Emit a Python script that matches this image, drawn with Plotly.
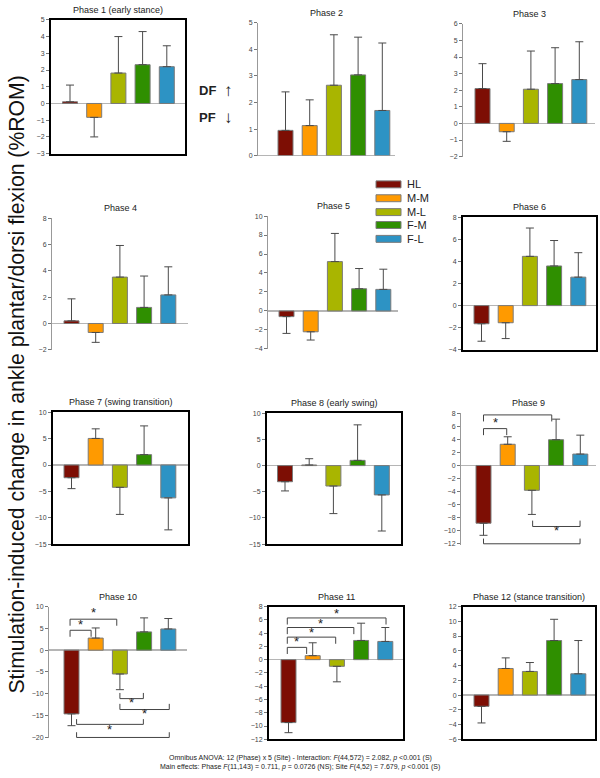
import plotly.graph_objects as go

# ---------------- data ----------------
sites = ["HL", "M-M", "M-L", "F-M", "F-L"]
site_colors = ["#7d0e04", "#ff9a00", "#a9b500", "#2f8f00", "#2d93c4"]

phase_titles = ["Phase 1 (early stance)", "Phase 2", "Phase 3",
                "Phase 4", "Phase 5", "Phase 6",
                "Phase 7 (swing transition)", "Phase 8 (early swing)", "Phase 9",
                "Phase 10", "Phase 11", "Phase 12 (stance transition)"]

p1_mean = [0.10, -0.83, 1.82, 2.32, 2.20]
p2_mean = [0.95, 1.13, 2.65, 3.04, 1.70]
p3_mean = [2.10, -0.50, 2.06, 2.40, 2.64]
p4_mean = [0.20, -0.68, 3.52, 1.22, 2.17]
p5_mean = [-0.60, -2.20, 5.20, 2.34, 2.27]
p6_mean = [-1.64, -1.55, 4.45, 3.58, 2.57]
p7_mean = [-2.41, 5.04, -4.23, 1.97, -6.23]
p8_mean = [-3.08, 0.12, -3.90, 1.00, -5.60]
p9_mean = [-8.85, 3.25, -3.80, 3.95, 1.75]
p10_mean = [-14.60, 2.77, -5.46, 4.19, 4.86]
p11_mean = [-9.48, 0.60, -1.00, 2.89, 2.74]
p12_mean = [-1.53, 3.60, 3.20, 7.39, 2.88]

p1_sd = [1.00, 1.17, 2.18, 1.98, 1.25]
p2_sd = [1.45, 0.97, 1.90, 1.42, 2.54]
p3_sd = [1.50, 0.58, 2.30, 2.16, 2.28]
p4_sd = [1.67, 0.75, 2.40, 2.38, 2.13]
p5_sd = [1.77, 0.87, 2.97, 2.13, 2.13]
p6_sd = [1.58, 1.43, 2.56, 2.30, 2.21]
p7_sd = [2.07, 1.82, 5.14, 5.45, 6.07]
p8_sd = [1.76, 1.20, 5.27, 6.79, 6.90]
p9_sd = [1.85, 1.15, 3.70, 3.15, 2.90]
p10_sd = [2.70, 2.32, 3.59, 3.21, 2.39]
p11_sd = [1.52, 1.94, 2.34, 2.60, 2.10]
p12_sd = [2.25, 1.44, 1.21, 2.88, 4.51]

means = [p1_mean, p2_mean, p3_mean, p4_mean, p5_mean, p6_mean,
         p7_mean, p8_mean, p9_mean, p10_mean, p11_mean, p12_mean]
sds = [p1_sd, p2_sd, p3_sd, p4_sd, p5_sd, p6_sd,
       p7_sd, p8_sd, p9_sd, p10_sd, p11_sd, p12_sd]

# y axis (min, max, step) per phase
y_axes = [(-3, 5, 1), (0, 5, 1), (-2, 6, 1),
          (-2, 8, 2), (-4, 10, 2), (-4, 8, 2),
          (-15, 10, 5), (-15, 10, 5), (-12, 8, 2),
          (-20, 10, 5), (-12, 8, 2), (-6, 12, 2)]

# significance brackets: (phase, from_cat, to_cat, y_line, y_leg_end, y_star)
brackets = [
    (9, 0.0, 0.96, 5.65, 4.65, 6.65),
    (9, 0.0, 2.82, 7.75, 6.75, 8.75),
    (9, 2.03, 3.99, -9.35, -8.45, -10.0),
    (9, 0.0, 3.99, -12.0, -11.2, -13.0),
    (10, -0.06, 0.81, 4.56, 3.07, 5.9),
    (10, -0.06, 1.87, 7.1, 5.6, 8.6),
    (10, 2.0, 2.97, -11.1, -9.8, -12.0),
    (10, 2.0, 4.04, -13.6, -12.3, -14.6),
    (10, 0.21, 2.97, -17.0, -15.8, -18.1),
    (10, 0.21, 4.04, -20.0, -18.8, -21.6),
    (11, -0.05, 0.75, 1.85, 0.85, 2.7),
    (11, -0.05, 1.95, 3.39, 2.39, 4.1),
    (11, -0.05, 2.70, 4.84, 3.84, 5.5),
    (11, -0.05, 4.03, 6.28, 5.29, 6.95),
]

# ---------------- layout geometry (page pixels) ----------------
W, H = 600, 778
# left, right, top, bottom, centre of first bar
geom = [(51, 185, 16, 151, 70), (258, 395, 19, 153, 285.5), (463, 595, 20, 154, 482.5),
        (52, 188, 216, 349, 71.5), (268, 398, 214, 348, 286.5), (463, 596, 215, 349, 481.5),
        (53, 188, 412, 545, 71.5), (267, 401, 413, 545, 285), (461, 596, 413, 546, 483.5),
        (49, 187, 608, 741, 71.5), (269, 403, 608, 742, 288.5), (463, 595, 608, 742, 481.5)]
framed = {1, 6, 7, 8, 11, 12}
SP = 24.2  # px between bar centres
FONT = "Arial, Liberation Sans, sans-serif"


def fx(px):
    return px / W


def fy(py):
    return 1 - py / H


fig = go.Figure()
layout = dict(width=W, height=H, margin=dict(l=0, r=0, t=0, b=0),
              paper_bgcolor="white", plot_bgcolor="white", showlegend=False,
              font=dict(family=FONT, color="#222"), shapes=[], annotations=[])

for i in range(12):
    n = i + 1
    sfx = "" if n == 1 else str(n)
    left, right, top, bottom, c0 = geom[i]
    x0 = -(c0 - left) / SP
    x1 = x0 + (right - left) / SP
    ymin, ymax, step = y_axes[i]
    pad = 0.2 if n in (9, 10) else 0
    fr = n in framed
    layout["xaxis" + sfx] = dict(domain=[fx(left), fx(right)], range=[x0, x1],
                                 anchor="y" + sfx, showticklabels=False, ticks="",
                                 showgrid=False, zeroline=False, fixedrange=True,
                                 showline=fr, mirror=fr, linecolor="black", linewidth=2)
    layout["yaxis" + sfx] = dict(domain=[fy(bottom), fy(top)], range=[ymin - pad, ymax],
                                 anchor="x" + sfx, fixedrange=True,
                                 tickvals=list(range(ymin, ymax + 1, step)),
                                 ticks="outside", ticklen=3, tickwidth=1, tickcolor="#777",
                                 tickfont=dict(size=7, color="#444", family=FONT),
                                 showgrid=False, zeroline=True, zerolinecolor="#b5b5b5",
                                 zerolinewidth=1.5, showline=True, mirror=fr,
                                 linecolor="black" if fr else "#999",
                                 linewidth=2 if fr else 1)
    m = means[i]
    sd = sds[i]
    plus = [s if v >= 0 else 0 for v, s in zip(m, sd)]
    minus = [0 if v >= 0 else s for v, s in zip(m, sd)]
    fig.add_trace(go.Bar(x=list(range(5)), y=m, width=0.62,
                         marker=dict(color=site_colors, line=dict(color="#7a7a7a", width=1)),
                         error_y=dict(type="data", symmetric=False, array=plus,
                                      arrayminus=minus, color="#4a4a4a",
                                      thickness=1, width=4),
                         xaxis="x" + sfx, yaxis="y" + sfx, hoverinfo="skip"))
    layout["annotations"].append(dict(text=phase_titles[i], xref="paper", yref="paper",
                                      x=fx((left + right) / 2), y=fy(top - 3),
                                      xanchor="center", yanchor="bottom", showarrow=False,
                                      font=dict(size=9, color="#222", family=FONT)))

# brackets
for (ph, a, b, yl, yg, ys) in brackets:
    sfx = "" if ph == 1 else str(ph)
    layout["shapes"].append(dict(type="path", xref="x" + sfx, yref="y" + sfx,
                                 path=f"M {a},{yg} L {a},{yl} L {b},{yl} L {b},{yg}",
                                 line=dict(color="#444", width=1)))
    layout["annotations"].append(dict(text="*", xref="x" + sfx, yref="y" + sfx,
                                      x=(a + b) / 2, y=ys, showarrow=False,
                                      xanchor="center", yanchor="middle",
                                      font=dict(size=13, color="#222", family=FONT)))

# legend
leg_y = [182, 196, 210, 223, 237]
for name, col, yy in zip(sites, site_colors, leg_y):
    layout["shapes"].append(dict(type="rect", xref="paper", yref="paper",
                                 x0=fx(376), x1=fx(401), y0=fy(yy + 3.5), y1=fy(yy - 3.5),
                                 fillcolor=col, line=dict(color="#7a7a7a", width=1)))
    layout["annotations"].append(dict(text=name, xref="paper", yref="paper",
                                      x=fx(405), y=fy(yy), xanchor="left", yanchor="middle",
                                      showarrow=False,
                                      font=dict(size=11, color="#222", family=FONT)))

# DF / PF markers
for lab, arrow, yy in (("DF", "\u2191", 87), ("PF", "\u2193", 115)):
    layout["annotations"].append(dict(text="<b>" + lab + "</b>", xref="paper", yref="paper",
                                      x=fx(197), y=fy(yy), xanchor="left", yanchor="middle",
                                      showarrow=False, font=dict(size=13, color="#222", family=FONT)))
    layout["annotations"].append(dict(text=arrow, xref="paper", yref="paper",
                                      x=fx(228), y=fy(yy), xanchor="center", yanchor="middle",
                                      showarrow=False, font=dict(size=17, color="#222", family=FONT)))

# y axis title
layout["annotations"].append(dict(text="Stimulation-induced change in ankle plantar/dorsi flexion (%ROM)",
                                  xref="paper", yref="paper", x=fx(17), y=fy(384),
                                  xanchor="center", yanchor="middle", textangle=-90,
                                  showarrow=False, font=dict(size=21.2, color="#111", family=FONT)))

# footer
layout["annotations"].append(dict(
    text="Omnibus ANOVA: 12 (Phase) x 5 (Site) - Interaction: <i>F</i>(44,572) = 2.082, <i>p</i> &lt;0.001 (S)",
    xref="paper", yref="paper", x=fx(300), y=fy(761), xanchor="center", yanchor="middle",
    showarrow=False, font=dict(size=7, color="#222", family=FONT)))
layout["annotations"].append(dict(
    text="Main effects: Phase <i>F</i>(11,143) = 0.711, <i>p</i> = 0.0726 (NS); Site <i>F</i>(4,52) = 7.679, <i>p</i> &lt;0.001 (S)",
    xref="paper", yref="paper", x=fx(300), y=fy(770), xanchor="center", yanchor="middle",
    showarrow=False, font=dict(size=7, color="#222", family=FONT)))

fig.update_layout(**layout)
fig.write_html("out.html", config={"displayModeBar": False, "staticPlot": True},
               post_script="document.body.style.margin='0';document.body.style.overflow='hidden';")
